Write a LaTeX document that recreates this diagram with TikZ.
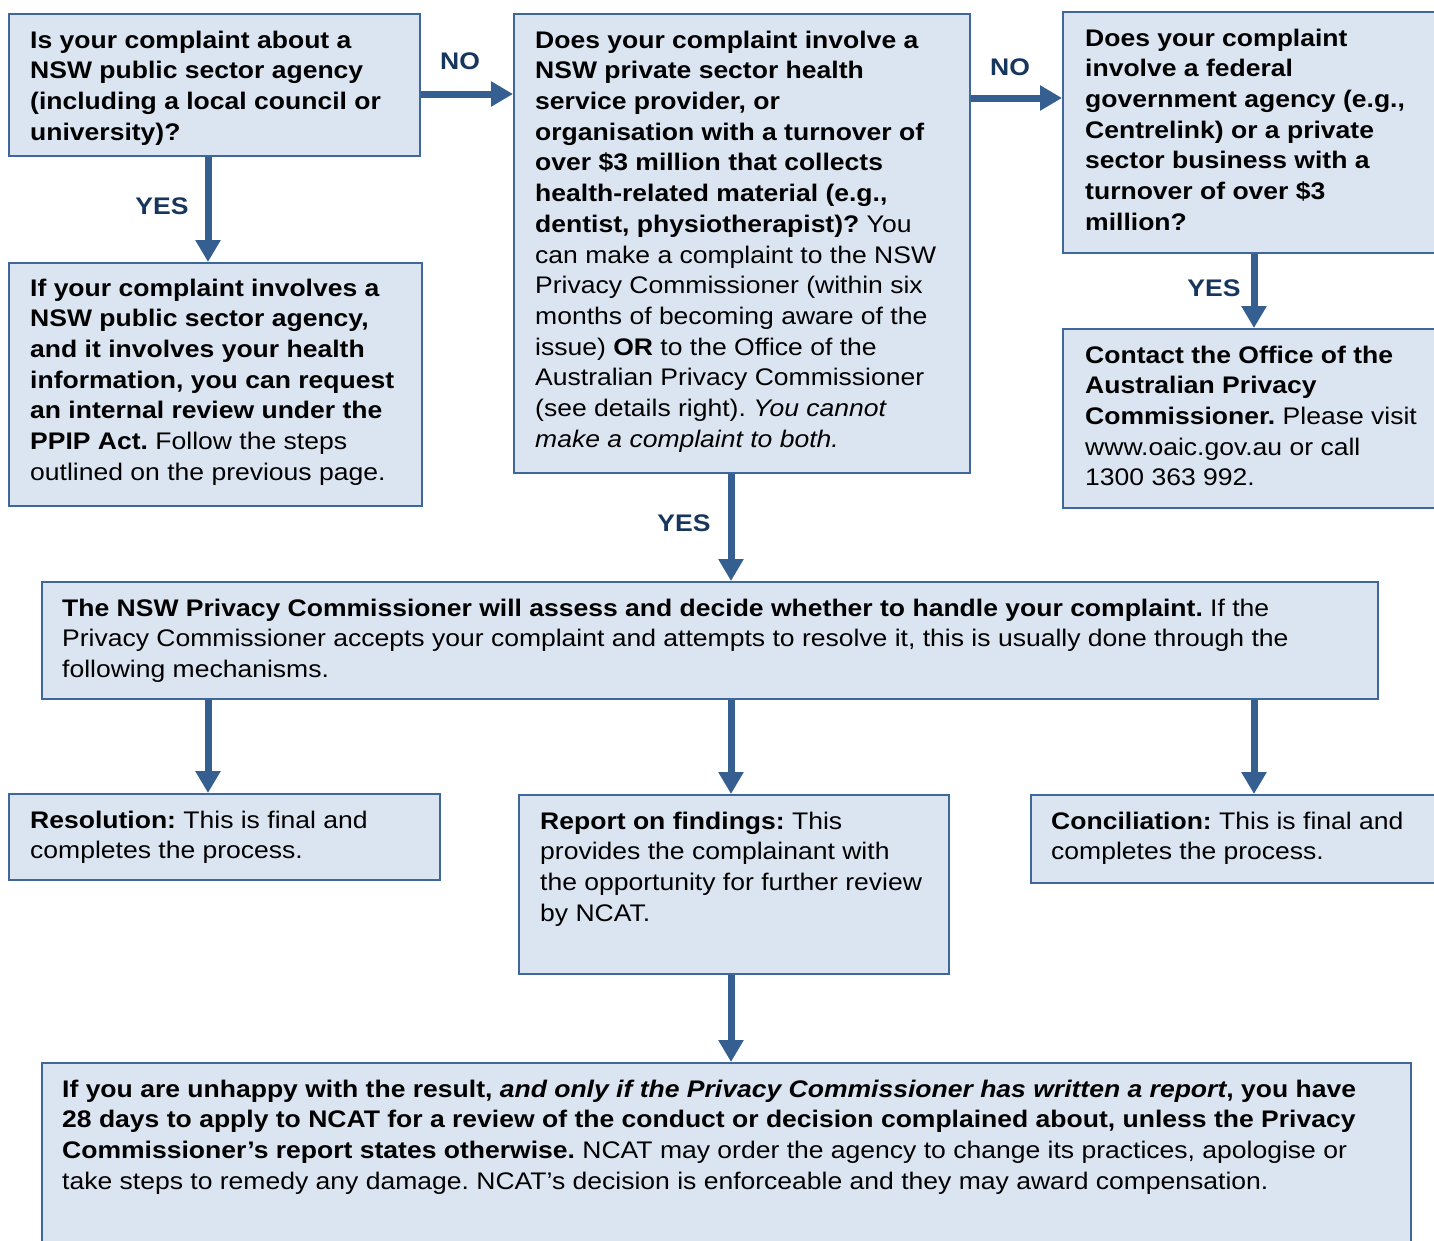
\documentclass[tikz,border=0pt]{standalone}
\usepackage{fontspec}
\setmainfont{Liberation Sans}[FakeStretch=1.105]
\usetikzlibrary{arrows.meta}
\definecolor{boxfill}{HTML}{DBE5F1}
\definecolor{bordc}{HTML}{3F679C}
\definecolor{arrc}{HTML}{365F91}
\definecolor{labc}{HTML}{17365D}
\newcommand\fsz{\fontsize{24}{30.7}\selectfont\frenchspacing}
\tikzset{
  box/.style={draw=bordc, line width=2pt, fill=boxfill, rectangle, inner sep=0pt, anchor=north west},
  txt/.style={anchor=north west, inner sep=0pt, align=left, font=\fsz, text=black},
  arr/.style={draw=arrc, line width=7pt, -{Triangle[width=24pt,length=22pt]}},
  lab/.style={font=\fsz\bfseries, text=labc, inner sep=0pt},
}
\begin{document}
\begin{tikzpicture}[x=1pt,y=-1pt]
\useasboundingbox (0,0) rectangle (1434,1240);
\clip (0,0) rectangle (1434,1240);
\fill[white] (0,0) rectangle (1434,1240);
% helper coordinates
\coordinate (h1) at (0,94);
\coordinate (h2) at (0,98);
\coordinate (v1) at (208,0);
\coordinate (v2) at (731,0);
\coordinate (v3) at (1254,0);
% boxes
\node[box, minimum width=411pt, minimum height=142pt] (A) at (8,13) {};
\node[box, minimum width=413pt, minimum height=243pt] (B) at (8,262) {};
\node[box, minimum width=456pt, minimum height=459pt] (C) at (513,13) {};
\node[box, minimum width=400pt, minimum height=241pt] (D) at (1062,11) {};
\node[box, minimum width=400pt, minimum height=179pt] (E) at (1062,328) {};
\node[box, minimum width=1336pt, minimum height=117pt] (F) at (41,581) {};
\node[box, minimum width=431pt, minimum height=86pt] (G) at (8,793) {};
\node[box, minimum width=430pt, minimum height=179pt] (H) at (518,794) {};
\node[box, minimum width=430pt, minimum height=88pt] (I) at (1030,794) {};
\node[box, minimum width=1369pt, minimum height=200pt] (J) at (41,1062) {};
% texts
\node[txt] (At) at (30,26.5) {\strut\textbf{Is your complaint about a}\\
\textbf{NSW public sector agency}\\
\textbf{(including a local council or}\\
\textbf{university)?}};
\node[txt] (Bt) at (30,274.5) {\strut\textbf{If your complaint involves a}\\
\textbf{NSW public sector agency,}\\
\textbf{and it involves your health}\\
\textbf{information, you can request}\\
\textbf{an internal review under the}\\
\textbf{PPIP Act.} Follow the steps\\
outlined on the previous page.};
\node[txt] (Ct) at (535,26.5) {\strut\textbf{Does your complaint involve a}\\
\textbf{NSW private sector health}\\
\textbf{service provider, or}\\
\textbf{organisation with a turnover of}\\
\textbf{over \$3 million that collects}\\
\textbf{health-related material (e.g.,}\\
\textbf{dentist, physiotherapist)?} You\\
can make a complaint to the NSW\\
Privacy Commissioner (within six\\
months of becoming aware of the\\
issue) \textbf{OR} to the Office of the\\
Australian Privacy Commissioner\\
(see details right). \textit{You cannot}\\
\textit{make a complaint to both.}};
\node[txt] (Dt) at (1085,24.5) {\strut\textbf{Does your complaint}\\
\textbf{involve a federal}\\
\textbf{government agency (e.g.,}\\
\textbf{Centrelink) or a private}\\
\textbf{sector business with a}\\
\textbf{turnover of over \$3}\\
\textbf{million?}};
\node[txt] (Et) at (1085,341.5) {\strut\textbf{Contact the Office of the}\\
\textbf{Australian Privacy}\\
\textbf{Commissioner.} Please visit\\
www.oaic.gov.au or call\\
1300 363 992.};
\node[txt] (Ft) at (62,594.5) {\strut\textbf{The NSW Privacy Commissioner will assess and decide whether to handle your complaint.} If the\\
Privacy Commissioner accepts your complaint and attempts to resolve it, this is usually done through the\\
following mechanisms.};
\node[txt] (Gt) at (30,806.5) {\strut\textbf{Resolution:} This is final and\\
completes the process.};
\node[txt] (Ht) at (540,807.5) {\strut\textbf{Report on findings:} This\\
provides the complainant with\\
the opportunity for further review\\
by NCAT.};
\node[txt] (It) at (1051,807.5) {\strut\textbf{Conciliation:} This is final and\\
completes the process.};
\node[txt] (Jt) at (62,1075.5) {\strut\textbf{If you are unhappy with the result, \textit{and only if the Privacy Commissioner has written a report}, you have}\\
\textbf{28 days to apply to NCAT for a review of the conduct or decision complained about, unless the Privacy}\\
\textbf{Commissioner’s report states otherwise.} NCAT may order the agency to change its practices, apologise or\\
take steps to remedy any damage. NCAT’s decision is enforceable and they may award compensation.};
% arrows
\draw[arr] (A.east |- h1) -- (C.west |- h1);
\draw[arr] (C.east |- h2) -- (D.west |- h2);
\draw[arr] (A.south -| v1) -- (B.north -| v1);
\draw[arr] (D.south -| v3) -- (E.north -| v3);
\draw[arr] (C.south -| v2) -- (F.north -| v2);
\draw[arr] (F.south -| v1) -- (G.north -| v1);
\draw[arr] (F.south -| v2) -- (H.north -| v2);
\draw[arr] (F.south -| v3) -- (I.north -| v3);
\draw[arr] (H.south -| v2) -- (J.north -| v2);
% labels
\node[lab] (no1) at (460,61) {NO};
\node[lab] (no2) at (1010,67) {NO};
\node[lab] (yes1) at (162,206) {YES};
\node[lab] (yes2) at (1214,288) {YES};
\node[lab] (yes3) at (684,523) {YES};
\end{tikzpicture}
\end{document}
